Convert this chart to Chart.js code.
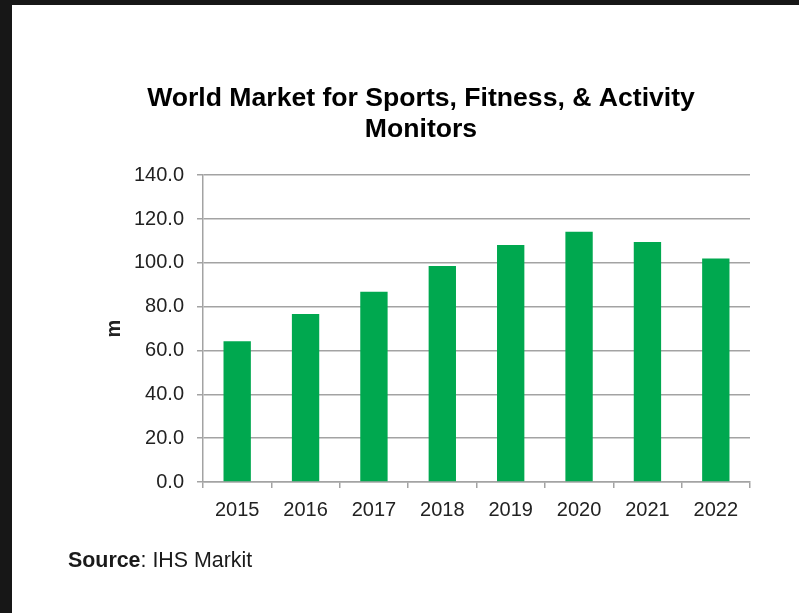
<!DOCTYPE html>
<html>
<head>
<meta charset="utf-8">
<script src="https://cdn.jsdelivr.net/npm/chart.js@4/dist/chart.umd.min.js"></script>
<style>
    html, body { margin: 0; padding: 0; background: #171717; overflow: hidden; }
    #sheet { position: absolute; left: 12px; top: 5px; width: 787px; height: 608px; background: #ffffff; }
    #chart_monitors { position: absolute; left: 0; top: 0; }
    #source_note { position: absolute; left: 56px; top: 543px; font-family: "Liberation Sans", Arial, sans-serif; font-size: 21.4px; line-height: 24px; color: #1a1a1a; }
</style>
</head>
<body>
<div id="sheet">
    <canvas id="chart_monitors" width="787" height="608"></canvas>
    <div id="source_note"><b>Source</b>: IHS Markit</div>
</div>
<script>
var years = ["2015", "2016", "2017", "2018", "2019", "2020", "2021", "2022"];
var unitsSold = [64.2, 76.7, 86.8, 98.6, 108.2, 114.2, 109.5, 102.0];
var titleLines = ["World Market for Sports, Fitness, & Activity", "Monitors"];
var axisTitle = "m";

var gridGray = "#a3a3a3";
var fontFamily = "'Liberation Sans', Arial, sans-serif";

var chartData = {
    labels: years,
    datasets: [{
        label: "Monitors",
        data: unitsSold,
        backgroundColor: "#00a84f",
        borderWidth: 0,
        categoryPercentage: 1,
        barPercentage: 0.4
    }]
};

var chartOptions = {
    responsive: false,
    animation: false,
    layout: {
        padding: { left: 80, right: 49, top: 78, bottom: 81 }
    },
    plugins: {
        legend: { display: false },
        tooltip: { enabled: false },
        title: {
            display: true,
            text: titleLines,
            color: "#000000",
            font: { family: fontFamily, size: 26.6, weight: "bold", lineHeight: 1.17 },
            padding: { top: 0, bottom: 30 }
        }
    },
    scales: {
        y: {
            min: 0,
            max: 140,
            afterFit: function (scale) { scale.width = 111; },
            ticks: {
                stepSize: 20,
                padding: 13,
                color: "#222222",
                font: { family: fontFamily, size: 20 },
                callback: function (v) { return v.toFixed(1); }
            },
            grid: {
                color: gridGray,
                lineWidth: 1.5,
                tickLength: 6
            },
            border: { color: gridGray, width: 1.5 },
            title: {
                display: true,
                text: axisTitle,
                color: "#222222",
                font: { family: fontFamily, size: 20, weight: "bold" },
                padding: { top: 10, bottom: 0 }
            }
        },
        x: {
            afterFit: function (scale) { scale.height = 50; },
            ticks: {
                padding: 10,
                color: "#222222",
                font: { family: fontFamily, size: 20 }
            },
            grid: {
                offset: true,
                drawOnChartArea: false,
                color: gridGray,
                lineWidth: 1.5,
                tickLength: 6
            },
            border: { color: gridGray, width: 1.5 }
        }
    }
};

var chart = new Chart(document.getElementById("chart_monitors").getContext("2d"), {
    type: "bar",
    data: chartData,
    options: chartOptions
});
</script>
</body>
</html>
